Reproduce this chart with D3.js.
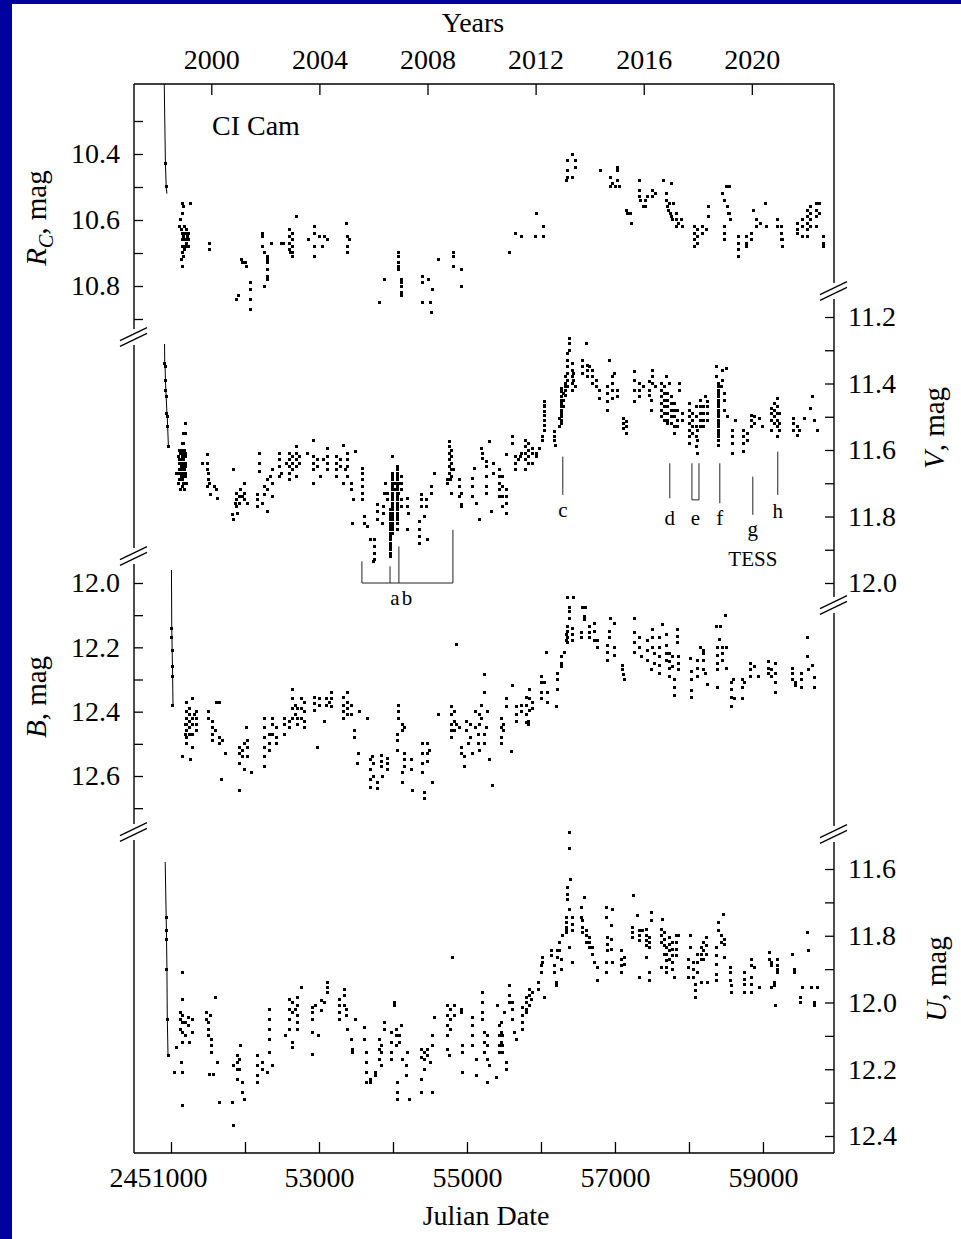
<!DOCTYPE html>
<html>
<head>
<meta charset="utf-8">
<script src="https://cdn.jsdelivr.net/npm/d3@7"></script>
<style>
  body { margin: 0; background: #00009e; }
</style>
</head>
<body>
<div id="chart"></div>
<script>
// ---- data (JD - 2400000, magnitude) ----
var yearTicks = [2000, 2004, 2008, 2012, 2016, 2020];
var jdTicks = [51000, 52000, 53000, 54000, 55000, 56000, 57000, 58000, 59000];
var jdLabels = [51000, 53000, 55000, 57000, 59000];

var rTicks = [10.3, 10.4, 10.5, 10.6, 10.7, 10.8, 10.9];
var rLabels = [10.4, 10.6, 10.8];
var vTicks = [11.2, 11.3, 11.4, 11.5, 11.6, 11.7, 11.8, 11.9, 12.0];
var vLabels = [11.2, 11.4, 11.6, 11.8, 12.0];
var bTicks = [12.0, 12.1, 12.2, 12.3, 12.4, 12.5, 12.6, 12.7];
var bLabels = [12.0, 12.2, 12.4, 12.6];
var uTicks = [11.6, 11.7, 11.8, 11.9, 12.0, 12.1, 12.2, 12.3, 12.4];
var uLabels = [11.6, 11.8, 12.0, 12.2, 12.4];

// 1998 outburst decline, drawn as a line
var rLine = [[50900,10.05],[50918,10.33],[50925,10.43],[50935,10.50],[50945,10.52]];
var vLine = [[50905,11.05],[50915,11.34],[50920,11.35],[50925,11.39],[50930,11.42],[50935,11.44],[50945,11.49],[50950,11.50],[50955,11.53],[50965,11.59]];
var bLine = [[51005,11.9],[51010,12.14],[51013,12.17],[51016,12.21],[51020,12.26],[51022,12.29],[51027,12.38]];
var uLine = [[50915,11.5],[50935,11.745],[50938,11.785],[50940,11.81],[50945,11.90],[50950,12.05],[50960,12.16]];

var rData = [
[50925,10.43],[50935,10.50],
[51110,10.62],[51150,10.55],[51170,10.56],[51160,10.58],[51130,10.60],[51140,10.63],[51150,10.64],[51160,10.66],[51170,10.65],[51180,10.62],[51190,10.64],[51200,10.66],[51210,10.67],[51220,10.65],[51230,10.64],[51240,10.66],[51260,10.55],[51150,10.68],[51160,10.70],[51140,10.72],[51150,10.74],[51170,10.71],[51180,10.69],[51200,10.68],[51230,10.68],[51210,10.63],
[51527,10.67],[51527,10.69],
[51880,10.84],[51910,10.83],[51950,10.72],[52010,10.73],[52020,10.74],[52070,10.79],[52070,10.81],[52070,10.84],[52070,10.87],[51960,10.73],
[52230,10.64],[52230,10.65],[52240,10.68],[52270,10.70],[52260,10.80],[52310,10.71],[52310,10.72],[52310,10.73],[52310,10.75],[52310,10.77],[52310,10.78],[52360,10.67],
[52500,10.67],[52520,10.67],[52600,10.63],[52600,10.65],[52600,10.67],[52600,10.69],[52610,10.70],[52640,10.64],[52640,10.66],[52640,10.68],[52640,10.70],[52640,10.71],[52690,10.59],
[52860,10.66],[52940,10.62],[52940,10.64],[52940,10.68],[52940,10.71],[53010,10.65],[53050,10.68],[53080,10.65],[53110,10.66],
[53370,10.61],[53390,10.65],[53410,10.66],[53390,10.68],[53390,10.70],
[53820,10.85],[53880,10.78],
[54070,10.70],[54070,10.71],[54070,10.73],[54070,10.74],[54080,10.75],[54120,10.78],[54120,10.79],[54120,10.80],[54120,10.82],[54120,10.83],
[54400,10.77],[54400,10.79],[54400,10.85],[54480,10.78],[54510,10.85],[54540,10.81],[54520,10.88],[54610,10.72],
[54820,10.70],[54820,10.71],[54820,10.74],[54930,10.75],[54930,10.80],
[55580,10.70],[55650,10.64],[55740,10.65],[55920,10.65],[56040,10.65],[55945,10.58],[56040,10.62],
[56420,10.40],[56365,10.42],[56470,10.42],[56470,10.44],[56365,10.45],[56365,10.47],[56350,10.48],[56430,10.47],
[56810,10.45],
[56945,10.47],[56960,10.49],[56945,10.50],[57040,10.44],[57040,10.45],[57040,10.48],[57065,10.50],[57010,10.50],
[57150,10.57],[57175,10.58],[57205,10.58],[57230,10.61],
[57325,10.48],[57325,10.51],[57325,10.53],[57350,10.54],[57380,10.56],[57415,10.54],[57415,10.56],[57445,10.53],[57510,10.51],[57510,10.53],[57550,10.52],
[57650,10.48],[57770,10.49],[57700,10.52],[57700,10.54],[57710,10.56],[57730,10.57],[57750,10.58],[57770,10.59],[57780,10.60],[57830,10.58],[57830,10.60],[57830,10.62],[57860,10.61],[57900,10.60],[57910,10.62],[57790,10.55],[57740,10.55],
[58080,10.62],[58080,10.64],[58080,10.66],[58080,10.68],[58120,10.63],[58120,10.65],[58120,10.67],[58180,10.62],[58180,10.64],[58260,10.56],[58270,10.59],[58240,10.63],
[58450,10.52],[58510,10.50],[58550,10.50],[58480,10.54],[58520,10.56],[58530,10.58],[58560,10.60],[58480,10.62],[58480,10.64],[58480,10.66],[58550,10.58],
[58670,10.65],[58670,10.67],[58670,10.69],[58670,10.71],[58780,10.65],[58780,10.67],[58780,10.68],[58840,10.64],[58840,10.66],
[58875,10.57],[58915,10.60],[58915,10.62],[58960,10.61],[59040,10.55],[59050,10.62],
[59200,10.60],[59200,10.62],[59250,10.62],[59250,10.64],[59250,10.66],[59270,10.66],[59270,10.68],
[59470,10.61],[59470,10.63],[59470,10.64],[59540,10.60],[59540,10.62],[59540,10.65],[59600,10.57],[59600,10.59],[59600,10.61],[59600,10.63],[59600,10.65],[59640,10.56],[59640,10.58],[59640,10.60],[59640,10.62],[59720,10.55],[59720,10.57],[59720,10.59],[59720,10.62],[59760,10.55],[59760,10.58],
[59820,10.65],[59820,10.67],[59820,10.68]
];

var vData = [
[50915,11.34],[50920,11.35],[50925,11.39],[50930,11.42],[50935,11.44],[50945,11.49],[50950,11.50],[50955,11.53],[50965,11.59],
[51200,11.52],[51170,11.55],[51200,11.55],[51150,11.58],[51170,11.58],[51120,11.60],[51140,11.60],[51160,11.61],[51180,11.60],[51200,11.62],[51100,11.62],[51120,11.63],[51150,11.64],[51170,11.63],[51190,11.65],[51110,11.66],[51130,11.66],[51160,11.67],[51180,11.66],[51200,11.68],[51140,11.68],[51160,11.69],[51120,11.69],[51170,11.70],[51080,11.67],[51210,11.70],[51130,11.72],[51180,11.72],[51150,11.71],[51100,11.70],
[51130,11.61],[51150,11.62],[51170,11.65],[51190,11.67],[51140,11.65],[51160,11.63],[51180,11.64],[51120,11.67],[51190,11.61],[51110,11.64],[51200,11.64],[51150,11.66],[51170,11.68],
[51500,11.615],[51430,11.64],[51500,11.64],[51500,11.66],[51510,11.67],[51510,11.69],[51500,11.71],[51590,11.71],[51620,11.72],[51630,11.745],[51530,11.735],[51520,11.70],
[51840,11.66],[51990,11.70],[51890,11.73],[51890,11.75],[51890,11.77],[51920,11.74],[51920,11.76],[51990,11.73],[52000,11.75],[52040,11.76],[51825,11.795],[51850,11.81],[51905,11.79],[51960,11.74],[51940,11.72],[51870,11.76],
[52200,11.61],[52200,11.64],[52200,11.665],[52175,11.735],[52175,11.75],[52175,11.77],[52240,11.76],[52300,11.785],[52270,11.71],[52270,11.735],[52310,11.69],[52310,11.72],[52365,11.66],[52365,11.70],[52365,11.74],[52340,11.68],
[52460,11.61],[52460,11.63],[52460,11.65],[52460,11.68],[52500,11.67],[52600,11.61],[52600,11.63],[52600,11.65],[52600,11.67],[52600,11.69],[52640,11.62],[52640,11.64],[52640,11.66],[52700,11.59],[52700,11.61],[52700,11.63],[52700,11.65],[52700,11.68],[52740,11.62],[52740,11.64],[52560,11.64],
[52920,11.57],[52850,11.61],[52920,11.62],[52920,11.64],[52920,11.66],[52920,11.70],[52985,11.63],[52985,11.65],[53015,11.68],[53110,11.595],[53110,11.62],[53110,11.64],[53110,11.66],[53060,11.63],
[53325,11.585],[53240,11.62],[53240,11.64],[53240,11.66],[53240,11.68],[53290,11.63],[53290,11.65],[53380,11.61],[53380,11.63],[53380,11.65],[53380,11.68],[53360,11.66],[53325,11.70],
[53500,11.605],[53445,11.70],[53445,11.72],[53470,11.75],
[53590,11.655],[53590,11.67],[53590,11.69],[53590,11.71],[53590,11.73],[53590,11.75],[53455,11.82],[53620,11.80],[53620,11.82],[53650,11.83],
[53690,11.87],[53755,11.87],[53755,11.89],[53755,11.91],[53755,11.93],[53740,11.935],
[53795,11.765],[53795,11.785],[53890,11.73],[53870,11.77],[53870,11.79],[53795,11.81],[53865,11.82],
[53930,11.73],[53930,11.75],[53960,11.78],[53960,11.80],[53960,11.82],[53960,11.84],[53960,11.86],[53960,11.88],[53960,11.90],[53965,11.92],[53990,11.62],[54000,11.67],[54000,11.69],[54000,11.71],[54000,11.73],[54000,11.75],[54000,11.77],[54000,11.79],[54000,11.81],[54000,11.83],[54000,11.85],[54020,11.70],[54020,11.72],[54055,11.65],[54055,11.67],[54055,11.69],[54055,11.71],[54055,11.73],[54055,11.75],[54055,11.77],[54055,11.79],[54055,11.81],[54055,11.84],[54070,11.70],[54070,11.73],[54120,11.68],[54120,11.70],[54120,11.72],[54120,11.75],[54120,11.77],[53900,11.70],
[53960,11.79],[53960,11.81],[53960,11.83],[53960,11.85],[53960,11.87],[53960,11.89],[53960,11.91],
[54000,11.68],[54000,11.70],[54000,11.72],[54000,11.74],[54000,11.76],[54000,11.78],[54000,11.80],[54000,11.82],[54000,11.84],
[54055,11.66],[54055,11.68],[54055,11.70],[54055,11.72],[54055,11.74],[54055,11.76],[54055,11.78],[54055,11.80],[54055,11.82],
[54190,11.745],[54190,11.77],[54215,11.79],[54200,11.84],
[54390,11.735],[54390,11.75],[54390,11.77],[54365,11.815],[54365,11.84],[54365,11.86],[54365,11.88],[54470,11.87],[54450,11.75],[54450,11.77],[54525,11.71],[54525,11.73],[54565,11.67],[54430,11.80],
[54770,11.575],[54770,11.59],[54770,11.61],[54770,11.63],[54770,11.65],[54770,11.67],[54780,11.69],[54795,11.60],[54795,11.62],[54795,11.64],[54795,11.66],[54795,11.68],[54795,11.73],[54730,11.69],[54730,11.70],[54905,11.69],[54905,11.71],[54905,11.74],[54930,11.77],[54930,11.765],[54920,11.73],[54820,11.66],
[55080,11.685],[55080,11.71],[55080,11.74],[55107,11.655],[55175,11.81],[55135,11.76],
[55200,11.595],[55215,11.61],[55215,11.625],[55270,11.635],[55270,11.65],[55270,11.68],[55310,11.575],[55270,11.71],[55270,11.73],[55335,11.785],[55360,11.64],[55360,11.67],
[55445,11.66],[55445,11.68],[55445,11.70],[55445,11.72],[55445,11.74],[55485,11.68],[55485,11.71],[55485,11.74],[55485,11.77],[55540,11.72],[55540,11.74],[55540,11.76],[55540,11.79],[55530,11.615],[55620,11.56],[55620,11.58],
[55650,11.62],[55650,11.64],[55650,11.66],[55700,11.63],[55720,11.62],[55740,11.61],
[55785,11.57],[55785,11.59],[55785,11.61],[55785,11.63],[55785,11.66],[55825,11.58],[55825,11.60],[55825,11.62],[55825,11.64],[55890,11.595],[55890,11.61],[55890,11.64],[55945,11.61],[55945,11.62],[55985,11.595],
[56025,11.56],[56025,11.57],[56053,11.51],[56053,11.54],[56053,11.455],[56053,11.47],[56053,11.485],[56053,11.465],[56053,11.495],[56053,11.525],
[56188,11.545],[56188,11.56],[56188,11.57],[56200,11.585],[56256,11.505],[56256,11.53],
[56280,11.415],[56280,11.44],[56280,11.46],[56280,11.48],[56280,11.50],[56280,11.52],[56300,11.43],[56300,11.45],[56300,11.47],[56335,11.41],[56335,11.42],[56335,11.435],
[56280,11.425],[56280,11.45],[56280,11.47],[56280,11.49],[56280,11.51],
[56390,11.265],[56390,11.28],[56390,11.30],[56365,11.31],[56365,11.33],[56365,11.35],[56365,11.37],[56365,11.39],[56365,11.41],[56420,11.34],[56420,11.36],[56420,11.38],[56420,11.40],[56420,11.42],[56440,11.37],[56440,11.39],[56335,11.38],[56335,11.40],[56460,11.41],
[56620,11.28],[56566,11.33],[56566,11.35],[56566,11.37],[56634,11.345],[56634,11.36],[56634,11.38],[56701,11.36],[56701,11.38],[56701,11.40],[56755,11.39],[56755,11.41],[56796,11.42],[56796,11.445],[56660,11.35],
[56920,11.33],[56905,11.41],[56905,11.43],[56905,11.455],[56970,11.38],[56970,11.40],[56970,11.42],[56970,11.445],[56990,11.37],[57040,11.42],[57040,11.44],[56905,11.48],
[57120,11.505],[57120,11.52],[57120,11.535],[57150,11.515],[57150,11.53],[57150,11.55],
[57270,11.365],[57270,11.39],[57270,11.42],[57270,11.455],[57335,11.40],[57335,11.42],[57335,11.44],[57390,11.41],[57470,11.395],[57470,11.42],[57470,11.435],[57510,11.36],[57510,11.38],[57510,11.40],[57490,11.45],[57490,11.48],[57550,11.41],
[57635,11.40],[57635,11.42],[57635,11.44],[57635,11.46],[57635,11.48],[57635,11.50],[57675,11.41],[57675,11.43],[57675,11.45],[57675,11.47],[57675,11.49],[57675,11.51],[57715,11.43],[57715,11.45],[57715,11.47],[57715,11.49],[57715,11.51],[57715,11.52],[57770,11.44],[57770,11.46],[57770,11.48],[57770,11.50],[57770,11.52],[57810,11.46],[57810,11.48],[57810,11.50],[57810,11.53],[57810,11.55],[57850,11.48],[57850,11.51],[57850,11.53],[57875,11.40],[57875,11.42],[57915,11.49],[57915,11.51],[57690,11.38],[57740,11.40],
[58012,11.46],[58012,11.48],[58012,11.50],[58012,11.52],[58012,11.54],[58012,11.56],[58012,11.58],[58050,11.49],[58050,11.51],[58050,11.53],[58050,11.55],[58100,11.47],[58100,11.50],[58100,11.53],[58100,11.56],[58100,11.59],[58120,11.54],[58120,11.57],[58120,11.61],[58150,11.45],[58150,11.47],[58150,11.49],[58150,11.51],[58150,11.53],[58200,11.47],[58200,11.49],[58200,11.51],[58200,11.53],[58255,11.455],[58255,11.47],[58255,11.49],[58255,11.51],[58230,11.44],
[58375,11.35],[58375,11.38],[58400,11.40],[58400,11.42],[58400,11.44],[58400,11.46],[58400,11.48],[58400,11.50],[58400,11.52],[58400,11.54],[58400,11.56],[58400,11.585],[58510,11.355],[58450,11.36],[58450,11.39],[58485,11.43],[58485,11.45],[58485,11.48],[58525,11.50],[58440,11.41],
[58400,11.41],[58400,11.43],[58400,11.45],[58400,11.47],[58400,11.49],[58400,11.51],[58400,11.53],[58400,11.55],[58400,11.57],
[58590,11.54],[58590,11.56],[58590,11.58],[58590,11.61],[58635,11.51],
[58740,11.54],[58740,11.56],[58740,11.58],[58740,11.605],[58795,11.55],[58795,11.57],
[58850,11.495],[58850,11.51],[58850,11.53],[58890,11.50],[58890,11.52],[58957,11.505],[58998,11.53],
[59120,11.475],[59120,11.49],[59120,11.51],[59120,11.54],[59160,11.46],[59160,11.48],[59160,11.50],[59160,11.52],[59200,11.445],[59200,11.47],[59200,11.49],[59200,11.51],[59200,11.53],[59200,11.56],[59227,11.49],[59227,11.52],[59227,11.54],
[59415,11.505],[59415,11.52],[59415,11.54],[59470,11.53],[59470,11.555],[59500,11.54],[59565,11.505],[59645,11.475],[59675,11.44],[59700,11.51],[59740,11.54]
];

var bData = [
[51010,12.14],[51013,12.17],[51016,12.21],[51020,12.26],[51022,12.29],[51027,12.38],
[51162,12.54],[51257,12.55],[51284,12.36],[51216,12.37],[51216,12.40],[51216,12.42],[51216,12.44],[51216,12.46],[51216,12.48],[51216,12.50],[51250,12.39],[51250,12.41],[51250,12.43],[51250,12.45],[51250,12.47],[51284,12.42],[51284,12.44],[51284,12.47],[51351,12.40],[51351,12.42],[51351,12.44],[51351,12.46],[51297,12.51],[51190,12.47],[51190,12.44],[51320,12.41],
[51513,12.40],[51513,12.42],[51567,12.43],[51567,12.45],[51567,12.47],[51567,12.49],[51621,12.37],[51660,12.37],[51662,12.48],[51662,12.50],[51690,12.49],[51743,12.53],[51689,12.61],[51600,12.46],
[51932,12.51],[51932,12.53],[51932,12.56],[51970,12.52],[51970,12.54],[52027,12.45],[52040,12.49],[52040,12.51],[52040,12.54],[52094,12.59],[51932,12.645],[51990,12.58],[52000,12.50],
[52270,12.42],[52270,12.45],[52270,12.48],[52270,12.51],[52270,12.54],[52270,12.57],[52337,12.47],[52337,12.50],[52337,12.52],[52378,12.42],[52378,12.44],[52378,12.47],[52432,12.45],[52432,12.48],[52432,12.50],
[52540,12.42],[52540,12.44],[52540,12.47],[52608,12.43],[52608,12.45],[52648,12.33],[52648,12.36],[52648,12.39],[52648,12.42],[52680,12.38],[52680,12.41],[52716,12.39],[52716,12.42],[52716,12.44],
[52770,12.36],[52770,12.39],[52770,12.42],[52810,12.37],[52810,12.40],[52810,12.43],[52810,12.45],[52945,12.355],[52945,12.375],[52945,12.395],[52985,12.51],[53010,12.36],[53010,12.38],[53080,12.43],[53100,12.36],[53100,12.38],[53175,12.34],[53175,12.36],[53175,12.385],[53140,12.37],
[53325,12.355],[53325,12.38],[53325,12.40],[53325,12.42],[53390,12.34],[53390,12.37],[53390,12.39],[53390,12.41],[53445,12.38],[53445,12.41],[53485,12.46],[53485,12.48],[53553,12.40],[53540,12.53],[53525,12.56],[53660,12.42],
[53690,12.55],[53690,12.58],[53690,12.61],[53690,12.635],[53730,12.56],[53730,12.60],[53785,12.62],[53785,12.64],[53850,12.535],[53850,12.555],[53850,12.57],[53920,12.545],[53920,12.56],[53920,12.58],[53865,12.60],[53720,12.54],
[54070,12.38],[54070,12.40],[54070,12.42],[54055,12.47],[54055,12.49],[54055,12.52],[54135,12.44],[54135,12.46],[54160,12.53],[54160,12.55],[54160,12.57],[54135,12.59],[54135,12.62],[54160,12.45],[54270,12.645],[54255,12.55],[54255,12.58],
[54405,12.50],[54405,12.53],[54405,12.56],[54405,12.59],[54432,12.65],[54432,12.67],[54472,12.50],[54472,12.53],[54472,12.555],[54500,12.52],[54540,12.62],[54620,12.41],
[54865,12.19],[54795,12.385],[54795,12.41],[54795,12.44],[54795,12.46],[54795,12.48],[54830,12.40],[54830,12.43],[54830,12.46],[54905,12.45],[54930,12.51],[54930,12.53],[54972,12.54],[54972,12.57],[54860,12.44],
[55000,12.43],[55000,12.46],[55020,12.50],[55050,12.44],[55050,12.48],[55080,12.53],[55110,12.40],[55110,12.45],[55150,12.47],[55150,12.50],[55175,12.41],[55175,12.44],[55175,12.52],[55242,12.285],[55230,12.34],[55200,12.38],[55200,12.42],[55230,12.47],[55230,12.50],[55260,12.45],[55280,12.40],[55300,12.55],[55350,12.63],
[55470,12.42],[55470,12.45],[55470,12.48],[55470,12.50],[55500,12.44],[55500,12.46],[55540,12.36],[55540,12.385],[55605,12.525],[55620,12.32],[55675,12.385],[55675,12.41],[55675,12.43],[55740,12.38],[55740,12.40],[55810,12.355],[55810,12.38],[55810,12.41],[55810,12.435],[55850,12.33],[55850,12.36],[55850,12.395],[55880,12.37],[55880,12.39],[55825,12.43],[55825,12.44],
[56012,12.29],[56012,12.31],[56012,12.34],[56012,12.36],[56050,12.31],[56080,12.215],[56093,12.34],[56093,12.37],[56215,12.385],[56230,12.28],[56230,12.30],[56230,12.33],[56283,12.23],[56283,12.25],[56283,12.26],[56323,12.215],
[56365,12.045],[56440,12.045],[56380,12.075],[56380,12.09],[56380,12.11],[56365,12.135],[56365,12.15],[56365,12.17],[56365,12.185],[56430,12.14],[56430,12.16],[56430,12.18],[56340,12.16],[56340,12.18],
[56566,12.075],[56600,12.075],[56593,12.105],[56593,12.115],[56553,12.155],[56553,12.17],[56661,12.135],[56661,12.155],[56661,12.17],[56728,12.125],[56728,12.15],[56728,12.18],[56769,12.18],[56769,12.20],
[56945,12.11],[56998,12.125],[56930,12.15],[56930,12.17],[56905,12.195],[56905,12.215],[56905,12.24],[56998,12.20],[56998,12.225],
[57105,12.255],[57105,12.27],[57120,12.285],[57130,12.30],
[57270,12.11],[57270,12.155],[57270,12.185],[57270,12.215],[57335,12.17],[57335,12.20],[57362,12.23],[57445,12.18],[57445,12.21],[57445,12.24],[57510,12.145],[57510,12.17],[57510,12.20],[57530,12.22],[57530,12.25],[57500,12.27],
[57606,12.17],[57606,12.20],[57606,12.23],[57606,12.255],[57606,12.28],[57647,12.13],[57690,12.16],[57700,12.195],[57700,12.22],[57700,12.24],[57740,12.22],[57740,12.245],[57740,12.265],[57740,12.29],[57780,12.23],[57780,12.26],[57810,12.30],[57810,12.325],[57810,12.35],[57850,12.145],[57850,12.165],[57850,12.185],[57865,12.23],[57865,12.25],[57865,12.27],
[58025,12.235],[58040,12.275],[58040,12.30],[58040,12.335],[58040,12.355],[58120,12.24],[58120,12.265],[58120,12.29],[58150,12.20],[58190,12.24],[58190,12.27],[58200,12.21],[58200,12.22],[58255,12.315],[58230,12.28],
[58498,12.10],[58375,12.135],[58430,12.135],[58417,12.175],[58390,12.20],[58390,12.225],[58390,12.25],[58390,12.27],[58457,12.20],[58457,12.22],[58457,12.24],[58510,12.20],[58390,12.325],[58510,12.265],
[58580,12.31],[58580,12.33],[58580,12.355],[58580,12.385],[58600,12.30],[58620,12.36],
[58727,12.30],[58727,12.325],[58727,12.36],[58750,12.31],[58835,12.25],[58835,12.27],[58835,12.29],[58880,12.26],[58940,12.29],
[59080,12.245],[59080,12.265],[59080,12.28],[59120,12.27],[59120,12.29],[59175,12.25],[59175,12.28],[59175,12.31],[59175,12.34],
[59400,12.265],[59400,12.28],[59400,12.30],[59440,12.31],[59440,12.32],[59525,12.28],[59525,12.30],[59525,12.325],[59605,12.17],[59605,12.23],[59675,12.255],[59700,12.295],[59700,12.325],[59620,12.27]
];

var uData = [
[50935,11.745],[50938,11.785],[50940,11.81],[50945,11.90],[50950,12.05],[50960,12.16],
[51162,11.91],[51162,11.99],[51122,12.03],[51122,12.05],[51122,12.08],[51162,12.04],[51162,12.06],[51162,12.09],[51230,12.045],[51230,12.07],[51284,12.05],[51284,12.09],[51081,12.135],[51162,12.12],[51054,12.21],[51140,12.18],[51150,12.21],[51162,12.31],[51200,12.06],[51250,12.12],[51190,12.10],
[51608,11.985],[51486,12.03],[51486,12.05],[51513,12.06],[51513,12.08],[51513,12.10],[51554,12.11],[51554,12.13],[51554,12.15],[51527,12.215],[51580,12.215],[51635,12.18],[51662,12.30],[51540,12.04],
[51837,12.30],[51850,12.37],[51892,12.16],[51892,12.18],[51892,12.20],[51892,12.23],[51920,12.17],[51920,12.20],[51960,12.24],[51960,12.27],[52000,12.29],[51946,12.13],[51840,12.19],
[52175,12.16],[52175,12.19],[52175,12.22],[52175,12.24],[52230,12.18],[52230,12.20],[52325,12.02],[52325,12.05],[52337,12.08],[52337,12.11],[52337,12.15],[52365,12.19],[52310,12.21],
[52608,11.99],[52608,12.02],[52608,12.05],[52608,12.08],[52640,12.00],[52640,12.03],[52716,11.985],[52716,12.01],[52716,12.04],[52716,12.06],[52716,12.08],[52770,11.955],[52648,12.12],[52648,12.135],[52553,12.10],[52680,12.02],
[52918,12.015],[52918,12.03],[52918,12.05],[52950,12.01],[53040,11.995],[53040,12.025],[53080,12.00],[53120,11.94],[53120,11.955],[53120,11.97],[52918,12.09],[53000,12.10],[52918,12.155],
[53283,11.99],[53283,12.01],[53283,12.03],[53283,12.05],[53351,11.96],[53351,11.98],[53351,12.01],[53370,12.02],[53370,12.04],[53391,12.08],[53445,12.11],[53459,12.14],[53459,12.15],[53500,12.05],
[53621,12.075],[53621,12.11],[53648,12.15],[53648,12.18],[53648,12.21],[53648,12.24],[53690,12.23],[53690,12.24],[53770,12.21],[53770,12.22],[53824,12.11],[53824,12.14],[53824,12.17],[53850,12.13],[53850,12.15],[53850,12.19],[53890,12.06],[53890,12.08],
[54026,12.00],[54026,12.01],[53986,12.09],[53986,12.12],[53986,12.15],[53986,12.17],[54053,12.08],[54053,12.10],[54053,12.13],[54090,12.10],[54090,12.12],[54067,12.24],[54067,12.27],[54067,12.29],[54134,12.17],[54188,12.19],[54188,12.22],[54200,12.15],[54229,12.29],[54120,12.07],
[54391,12.14],[54391,12.165],[54391,12.23],[54391,12.27],[54432,12.15],[54432,12.17],[54432,12.20],[54472,12.14],[54472,12.16],[54510,12.18],[54540,12.10],[54540,12.13],[54540,12.27],[54567,12.045],
[54810,11.865],[54742,12.01],[54742,12.04],[54742,12.07],[54742,12.10],[54742,12.14],[54780,12.02],[54780,12.05],[54780,12.08],[54837,12.01],[54837,12.04],[54769,12.16],[54931,12.02],[54931,12.03],[54945,12.13],[54945,12.15],[54945,12.21],
[55080,12.045],[55080,12.07],[55080,12.10],[55080,12.13],[55135,12.17],[55135,12.22],
[55215,11.97],[55215,12.00],[55215,12.03],[55215,12.05],[55242,12.09],[55242,12.12],[55242,12.15],[55283,12.10],[55283,12.13],[55283,12.17],[55310,12.19],[55283,12.24],[55404,12.225],[55418,12.01],[55445,12.07],[55445,12.10],[55445,12.13],[55445,12.15],[55472,12.06],[55472,12.09],[55472,12.12],[55485,12.10],[55485,12.13],[55485,12.15],[55512,12.03],[55540,12.18],[55540,12.20],[55580,11.95],[55580,11.98],[55580,12.00],
[55620,12.00],[55620,12.02],[55620,12.05],[55647,12.09],[55675,12.11],[55755,12.015],[55755,12.04],[55755,12.06],[55755,12.08],[55810,11.985],[55810,12.00],[55810,12.02],[55810,12.03],[55850,11.96],[55850,11.98],[55850,12.01],[55890,11.97],[55870,11.99],
[55960,11.94],[55960,11.96],[56010,11.89],[56010,11.91],[56025,11.865],[56025,11.88],[56053,11.985],[56147,11.845],[56147,11.86],[56188,11.89],[56188,11.91],[56215,11.94],[56215,11.95],[56230,11.845],[56230,11.865],[56256,11.82],[56256,11.845],[56283,11.87],[56283,11.90],
[56390,11.49],[56390,11.54],[56405,11.63],[56365,11.655],[56365,11.675],[56365,11.69],[56390,11.72],[56350,11.745],[56350,11.76],[56350,11.775],[56350,11.79],[56420,11.745],[56420,11.765],[56420,11.785],[56296,11.80],[56390,11.835],[56420,11.88],[56340,11.78],
[56553,11.715],[56553,11.745],[56593,11.685],[56566,11.755],[56566,11.775],[56566,11.79],[56620,11.785],[56620,11.80],[56620,11.82],[56661,11.805],[56661,11.82],[56661,11.835],[56701,11.835],[56701,11.855],[56728,11.88],[56769,11.935],[56769,11.895],
[56890,11.715],[56890,11.745],[56972,11.72],[56905,11.805],[56905,11.825],[56905,11.845],[56958,11.77],[56958,11.81],[56958,11.84],[56890,11.88],[56890,11.91],[56972,11.88],
[57090,11.845],[57090,11.87],[57090,11.89],[57090,11.91],[57130,11.865],[57130,11.885],
[57255,11.68],[57310,11.74],[57242,11.775],[57242,11.79],[57242,11.805],[57335,11.785],[57335,11.80],[57335,11.815],[57377,11.785],[57430,11.78],[57430,11.80],[57430,11.815],[57430,11.83],[57470,11.805],[57470,11.82],[57470,11.835],[57500,11.73],[57500,11.755],[57335,11.925],[57470,11.91],[57470,11.935],[57430,11.865],
[57647,11.75],[57635,11.78],[57635,11.80],[57635,11.82],[57674,11.79],[57674,11.81],[57674,11.83],[57674,11.855],[57700,11.835],[57700,11.855],[57700,11.875],[57700,11.895],[57741,11.805],[57741,11.825],[57741,11.845],[57741,11.87],[57782,11.82],[57782,11.84],[57782,11.86],[57782,11.88],[57782,11.90],[57836,11.80],[57836,11.82],[57836,11.84],[57836,11.86],[57863,11.80],[57809,11.925],[57635,11.895],[57700,11.91],
[58025,11.80],[58025,11.835],[57998,11.87],[57998,11.895],[57998,11.925],[58066,11.88],[58066,11.90],[58066,11.925],[58093,11.945],[58093,11.965],[58093,11.985],[58120,11.855],[58120,11.88],[58120,11.91],[58175,11.835],[58175,11.855],[58175,11.87],[58200,11.82],[58200,11.845],[58200,11.87],[58240,11.805],[58240,11.83],[58240,11.855],[58255,11.94],[58175,11.94],
[58375,11.835],[58375,11.86],[58375,11.885],[58375,11.915],[58400,11.76],[58400,11.785],[58440,11.80],[58440,11.82],[58470,11.735],[58484,11.81],[58484,11.825],[58484,11.865],[58375,11.935],
[58565,11.895],[58565,11.91],[58565,11.935],[58580,11.95],[58580,11.97],
[58755,11.91],[58755,11.93],[58755,11.945],[58755,11.97],[58850,11.87],[58850,11.89],[58850,11.925],[58850,11.945],[58850,11.97],[58890,11.895],[58957,11.955],
[59092,11.85],[59092,11.87],[59120,11.88],[59120,11.89],[59160,11.94],[59160,11.95],[59175,12.01],[59190,11.87],[59190,11.89],[59190,11.91],[59200,11.90],[59120,11.955],
[59400,11.855],[59430,11.90],[59430,11.91],[59510,11.985],[59510,12.00],[59540,11.955],[59605,11.79],[59620,11.845],[59660,11.955],[59700,12.00],[59700,12.01],[59740,11.955]
];

// event marks on the V curve: JD, top and bottom magnitude of the line, label
var markNames = ["c", "d", "f", "g", "h"];
var markJD = [56295, 57741, 58417, 58863, 59200];
var markTop = [11.62, 11.64, 11.64, 11.68, 11.605];
var markBottom = [11.735, 11.745, 11.76, 11.795, 11.735];
var markLabelMag = [11.80, 11.825, 11.825, 11.86, 11.805];
var eMark = { jd0: 58040, jd1: 58135, top: 11.64, bottom: 11.75, labelMag: 11.825 };
var abJD = [53580, 53960, 54080, 54810];
var abTop = [11.935, 11.95, 11.89, 11.84];
var abBase = 12.0;

// ---- layout ----
var width = 961, height = 1239;
var plotLeft = 134, plotRight = 834, plotTop = 84, plotBottom = 1153;
var FONT = "'Liberation Serif', 'Times New Roman', serif";
var fmt = d3.format(".1f");

var svg = d3.select("#chart").append("svg")
    .attr("width", width)
    .attr("height", height)
    .attr("font-family", FONT);

svg.append("rect").attr("width", width).attr("height", height).attr("fill", "#00009e");
svg.append("rect").attr("x", 12).attr("y", 4).attr("width", width - 12).attr("height", height - 4).attr("fill", "#fff");

var x = d3.scaleLinear().domain([50500, 59960]).range([plotLeft, plotRight]);

function jdToYear(jd) { return 2000 + (jd - 51544.5) / 365.25; }
var xYear = d3.scaleLinear().domain([jdToYear(50500), jdToYear(59960)]).range([plotLeft, plotRight]);

var panels = [
    { data: rData, line: rLine, y: d3.scaleLinear().domain([10.4, 10.8]).range([154, 286]), band: [84, 330] },
    { data: vData, line: vLine, y: d3.scaleLinear().domain([11.2, 12.0]).range([317, 583]), band: [344, 600] },
    { data: bData, line: bLine, y: d3.scaleLinear().domain([12.0, 12.6]).range([583, 776]), band: [570, 830] },
    { data: uData, line: uLine, y: d3.scaleLinear().domain([11.6, 12.4]).range([869, 1136]), band: [862, 1153] }
];
var yR = panels[0].y, yV = panels[1].y, yB = panels[2].y, yU = panels[3].y;

// frame: top and bottom lines, axis segments between the breaks
var frame = svg.append("g").attr("stroke", "#000").attr("stroke-width", 1.4);
frame.append("line").attr("x1", plotLeft).attr("x2", plotRight).attr("y1", plotTop).attr("y2", plotTop);
frame.append("line").attr("x1", plotLeft).attr("x2", plotRight).attr("y1", plotBottom).attr("y2", plotBottom);

var leftSegs = [[plotTop, 329], [345, 548], [564, 824], [840, plotBottom]];
var rightSegs = [[plotTop, 283], [299, 597], [613, 826], [842, plotBottom]];
leftSegs.forEach(function (s) {
    frame.append("line").attr("x1", plotLeft).attr("x2", plotLeft).attr("y1", s[0]).attr("y2", s[1]);
});
rightSegs.forEach(function (s) {
    frame.append("line").attr("x1", plotRight).attr("x2", plotRight).attr("y1", s[0]).attr("y2", s[1]);
});

function axisBreak(cx, cy) {
    [-2.8, 2.8].forEach(function (o) {
        frame.append("line")
            .attr("x1", cx - 14).attr("y1", cy + o + 6.5)
            .attr("x2", cx + 13).attr("y2", cy + o - 6.5)
            .attr("stroke-width", 1.3);
    });
}
axisBreak(plotLeft, 337); axisBreak(plotLeft, 556); axisBreak(plotLeft, 832);
axisBreak(plotRight, 291); axisBreak(plotRight, 605); axisBreak(plotRight, 834);

function styleAxis(g) {
    g.select(".domain").remove();
    g.selectAll(".tick line").attr("stroke", "#000").attr("stroke-width", 1.3);
    g.selectAll(".tick text").attr("fill", "#000").attr("font-size", 28).attr("font-family", FONT);
}

function labelOnly(list) {
    var keep = new Set(list.map(fmt));
    return function (d) { return keep.has(fmt(d)) ? fmt(d) : ""; };
}

// x axes
svg.append("g").attr("transform", "translate(0," + plotBottom + ")")
    .call(d3.axisBottom(x).tickValues(jdTicks).tickSize(-11).tickPadding(14)
        .tickFormat(function (d) { return jdLabels.indexOf(d) < 0 ? "" : (d === 51000 ? "2451000" : d); }))
    .call(styleAxis)
    .call(function (g) {
        g.selectAll(".tick text").filter(function (d) { return d === 51000; })
            .attr("text-anchor", "end").attr("x", 36);
    });

svg.append("g").attr("transform", "translate(0," + plotTop + ")")
    .call(d3.axisTop(xYear).tickValues(yearTicks).tickSize(-11).tickPadding(15).tickFormat(d3.format("d")))
    .call(styleAxis);

// y axes
svg.append("g").attr("transform", "translate(" + plotLeft + ",0)")
    .call(d3.axisLeft(yR).tickValues(rTicks).tickSize(-9).tickPadding(14).tickFormat(labelOnly(rLabels)))
    .call(styleAxis);
svg.append("g").attr("transform", "translate(" + plotLeft + ",0)")
    .call(d3.axisLeft(yB).tickValues(bTicks).tickSize(-9).tickPadding(14).tickFormat(labelOnly(bLabels)))
    .call(styleAxis);
svg.append("g").attr("transform", "translate(" + plotRight + ",0)")
    .call(d3.axisRight(yV).tickValues(vTicks).tickSize(-9).tickPadding(14).tickFormat(labelOnly(vLabels)))
    .call(styleAxis);
svg.append("g").attr("transform", "translate(" + plotRight + ",0)")
    .call(d3.axisRight(yU).tickValues(uTicks).tickSize(-9).tickPadding(14).tickFormat(labelOnly(uLabels)))
    .call(styleAxis);

// axis titles
svg.append("text").attr("x", 473).attr("y", 32).attr("text-anchor", "middle").attr("font-size", 28).text("Years");
svg.append("text").attr("x", 486).attr("y", 1225).attr("text-anchor", "middle").attr("font-size", 28).text("Julian Date");

function sideTitle(tx, ty, letter, sub) {
    var t = svg.append("text")
        .attr("transform", "translate(" + tx + "," + ty + ") rotate(-90)")
        .attr("text-anchor", "middle").attr("font-size", 29);
    t.append("tspan").attr("font-style", "italic").text(letter);
    if (sub) {
        t.append("tspan").attr("font-style", "italic").attr("font-size", 20).attr("dy", 7).text(sub);
        t.append("tspan").attr("dy", -7).text(", mag");
    } else {
        t.append("tspan").text(", mag");
    }
}
sideTitle(46, 218, "R", "C");
sideTitle(46, 697, "B");
sideTitle(944, 428, "V");
sideTitle(946, 979, "U");

svg.append("text").attr("x", 212).attr("y", 135).attr("font-size", 28).text("CI Cam");

// outburst lines, clipped to each panel band
var defs = svg.append("defs");
panels.forEach(function (p, i) {
    defs.append("clipPath").attr("id", "band" + i).append("rect")
        .attr("x", plotLeft).attr("y", p.band[0]).attr("width", plotRight - plotLeft).attr("height", p.band[1] - p.band[0]);
    svg.append("path")
        .datum(p.line)
        .attr("clip-path", "url(#band" + i + ")")
        .attr("fill", "none").attr("stroke", "#000").attr("stroke-width", 1)
        .attr("d", d3.line().x(function (d) { return x(d[0]); }).y(function (d) { return p.y(d[1]); }));
});

// points, snapped to the pixel grid
panels.forEach(function (p) {
    svg.append("g").attr("shape-rendering", "crispEdges").selectAll("rect")
        .data(p.data)
        .join("rect")
        .attr("x", function (d) { return Math.round(x(d[0]) - 1.5); })
        .attr("y", function (d) { return Math.round(p.y(d[1]) - 1.5); })
        .attr("width", 3).attr("height", 3)
        .attr("fill", "#000");
});

// event marks
var marks = svg.append("g").attr("stroke", "#222").attr("stroke-width", 1);
var markText = svg.append("g").attr("font-size", 21).attr("text-anchor", "middle").attr("fill", "#000");
markNames.forEach(function (name, i) {
    marks.append("line")
        .attr("x1", x(markJD[i])).attr("x2", x(markJD[i]))
        .attr("y1", yV(markTop[i])).attr("y2", yV(markBottom[i]));
    markText.append("text").attr("x", x(markJD[i])).attr("y", yV(markLabelMag[i])).text(name);
});
marks.append("path").attr("fill", "none")
    .attr("d", "M" + x(eMark.jd0) + "," + yV(eMark.top) + "V" + yV(eMark.bottom) +
        "H" + x(eMark.jd1) + "V" + yV(eMark.top));
markText.append("text").attr("x", (x(eMark.jd0) + x(eMark.jd1)) / 2).attr("y", yV(eMark.labelMag)).text("e");
markText.append("text").attr("x", x(58863)).attr("y", yV(11.95)).text("TESS");

abJD.forEach(function (jd, i) {
    marks.append("line").attr("x1", x(jd)).attr("x2", x(jd)).attr("y1", yV(abTop[i])).attr("y2", yV(abBase));
});
marks.append("line").attr("x1", x(abJD[0])).attr("x2", x(abJD[3])).attr("y1", yV(abBase)).attr("y2", yV(abBase));
markText.append("text").attr("x", x(54026)).attr("y", yV(12.066)).text("a");
markText.append("text").attr("x", x(54190)).attr("y", yV(12.066)).text("b");
</script>
</body>
</html>
